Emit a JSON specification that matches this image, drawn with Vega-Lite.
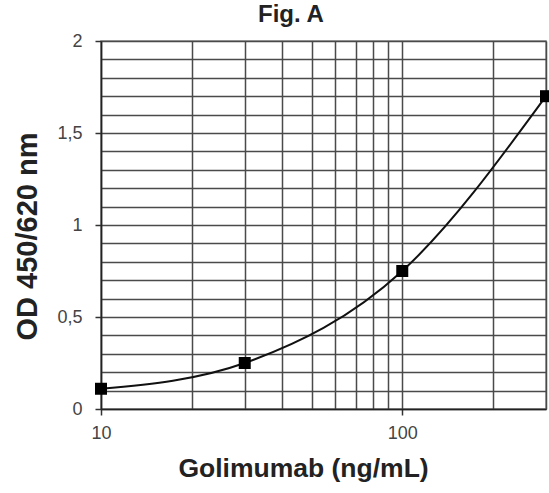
{
  "$schema": "https://vega.github.io/schema/vega-lite/v6.json",
  "autosize": "none",
  "width": 445,
  "height": 368,
  "padding": {"left": 101, "top": 41, "right": 3, "bottom": 84},
  "background": "white",
  "config": {
    "font": "Liberation Sans",
    "view": {"stroke": "#8a8a8a", "strokeWidth": 1.5}
  },
  "title": {
    "text": "Fig. A",
    "anchor": "start",
    "frame": "group",
    "dx": 157,
    "offset": 5,
    "fontSize": 24,
    "fontWeight": "bold",
    "color": "#222"
  },
  "data": {
    "values": [
      {"conc": 10, "od": 0.11},
      {"conc": 30, "od": 0.25},
      {"conc": 100, "od": 0.75},
      {"conc": 300, "od": 1.70}
    ]
  },
  "encoding": {
    "x": {
      "field": "conc",
      "type": "quantitative",
      "scale": {"type": "log", "domain": [10, 300], "nice": false},
      "axis": {
        "title": "Golimumab (ng/mL)",
        "titleFontSize": 26.5,
        "titleFontWeight": "bold",
        "titleColor": "#222",
        "titlePadding": 13,
        "titleX": 202,
        "values": [10, 20, 30, 40, 50, 60, 70, 80, 90, 100, 200, 300],
        "labelExpr": "datum.value == 10 || datum.value == 100 ? format(datum.value, 'd') : ''",
        "labelFontSize": 18,
        "labelColor": "#444",
        "labelPadding": 9,
        "labelFlush": false,
        "tickSize": {"condition": {"test": "datum.value == 10 || datum.value == 100", "value": 6}, "value": 0},
        "tickColor": "#333",
        "tickWidth": 1.5,
        "domainColor": "#222",
        "domainWidth": 1.5,
        "grid": true,
        "gridColor": "#4a4a4a",
        "gridWidth": 1.5,
        "gridOpacity": 1
      }
    },
    "y": {
      "field": "od",
      "type": "quantitative",
      "scale": {"domain": [0, 2], "nice": false},
      "axis": {
        "title": "OD 450/620 nm",
        "titleFontSize": 29,
        "titleFontWeight": "bold",
        "titleColor": "#222",
        "titlePadding": 14,
        "titleY": 195,
        "values": [0, 0.1, 0.2, 0.3, 0.4, 0.5, 0.6, 0.7, 0.8, 0.9, 1, 1.1, 1.2, 1.3, 1.4, 1.5, 1.6, 1.7, 1.8, 1.9, 2],
        "labelExpr": "abs(datum.value * 2 - round(datum.value * 2)) < 0.001 ? replace(format(datum.value, '~g'), '.', ',') : ''",
        "labelFontSize": 18,
        "labelColor": "#444",
        "labelPadding": 13,
        "tickSize": {"condition": {"test": "abs(datum.value * 2 - round(datum.value * 2)) < 0.001", "value": 6}, "value": 0},
        "tickColor": "#333",
        "tickWidth": 1.5,
        "domainColor": "#222",
        "domainWidth": 1.5,
        "grid": true,
        "gridColor": "#4a4a4a",
        "gridWidth": 1.5,
        "gridOpacity": 1
      }
    }
  },
  "layer": [
    {
      "mark": {"type": "line", "interpolate": "monotone", "color": "#111", "strokeWidth": 2}
    },
    {
      "mark": {"type": "point", "shape": "square", "filled": true, "color": "#000", "size": 144, "opacity": 1}
    }
  ]
}
